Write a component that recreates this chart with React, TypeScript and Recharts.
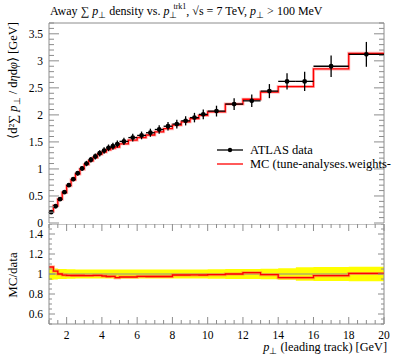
import React from "react";
import {
  Area,
  ComposedChart,
  ErrorBar,
  Line,
  ReferenceLine,
  Scatter,
  XAxis,
  YAxis,
} from "recharts";

// bin edges in p_T (leading track) [GeV]
const binEdges = [
  1, 1.25, 1.5, 1.75, 2, 2.25, 2.5, 2.75, 3, 3.25, 3.5, 3.75, 4, 4.25, 4.5,
  4.75, 5, 5.5, 6, 6.5, 7, 7.5, 8, 8.5, 9, 9.5, 10, 11, 12, 13, 14, 15, 16, 18,
  20,
];

// ATLAS data: away sum pT density
const dataValues = [
  0.2, 0.31, 0.44, 0.57, 0.7, 0.81, 0.92, 1.01, 1.1, 1.17, 1.23, 1.29, 1.34,
  1.39, 1.42, 1.46, 1.51, 1.58, 1.62, 1.67, 1.73, 1.79, 1.83, 1.89, 1.95, 2.01,
  2.07, 2.2, 2.26, 2.44, 2.62, 2.62, 2.9, 3.12,
];

const dataErrors = [
  0.012, 0.017, 0.022, 0.028, 0.034, 0.038, 0.042, 0.046, 0.05, 0.053, 0.056,
  0.058, 0.06, 0.062, 0.063, 0.065, 0.068, 0.07, 0.072, 0.075, 0.077, 0.08,
  0.082, 0.085, 0.088, 0.09, 0.1, 0.11, 0.115, 0.13, 0.15, 0.18, 0.2, 0.23,
];

// MC prediction
const mcValues = [
  0.214, 0.319, 0.44, 0.564, 0.69, 0.798, 0.906, 0.995, 1.083, 1.152, 1.212,
  1.271, 1.313, 1.355, 1.385, 1.406, 1.465, 1.533, 1.58, 1.628, 1.687, 1.745,
  1.812, 1.871, 1.931, 1.99, 2.056, 2.2, 2.289, 2.423, 2.523, 2.523, 2.851,
  3.139,
];

const xMajorTicks = [2, 4, 6, 8, 10, 12, 14, 16, 18, 20];
const mainYMajorTicks = [0, 0.5, 1, 1.5, 2, 2.5, 3, 3.5];
const ratioYMajorTicks = [0.6, 0.8, 1, 1.2, 1.4];

const GRAY = "#8c8c8c";
const FONT = "'Liberation Serif', serif";
const W = 397;
const PLOT_L = 49;
const PLOT_R = 384;
const PLOT_W = PLOT_R - PLOT_L;
const MAIN_TOP = 23;
const MAIN_H = 200;
const RATIO_H = 100;
const MAIN_YMAX = 3.7;

const range = (a: number, b: number, step: number) => {
  const out: number[] = [];
  for (let v = a; v <= b + 1e-9; v += step) out.push(Math.round(v * 1000) / 1000);
  return out;
};

const xTicks = range(1, 20, 0.5);
const mainYTicks = range(0, 3.7, 0.1);
const ratioYTicks = range(0.5, 1.5, 0.05);

const isMajor = (v: number, majors: number[]) =>
  majors.some((m) => Math.abs(m - v) < 1e-6);

const n = dataValues.length;

const points = dataValues.map((v, i) => ({
  x: (binEdges[i] + binEdges[i + 1]) / 2,
  y: v,
  ex: (binEdges[i + 1] - binEdges[i]) / 2,
  ey: dataErrors[i],
}));

const mcStep = binEdges.map((e, i) => ({
  x: e,
  mc: mcValues[Math.min(i, n - 1)],
}));

const ratioStep = binEdges.map((e, i) => {
  const k = Math.min(i, n - 1);
  const rel = dataErrors[k] / dataValues[k];
  return {
    x: e,
    r: mcValues[k] / dataValues[k],
    band: [1 - rel, 1 + rel],
  };
});

function makeXTick(plotH: number, showLabels: boolean, big: number, small: number) {
  return (props: any) => {
    const { x, y, payload } = props;
    const major = isMajor(payload.value, xMajorTicks);
    const len = major ? big : small;
    return (
      <g>
        <line x1={x} y1={y} x2={x} y2={y - len} stroke={GRAY} />
        <line x1={x} y1={y - plotH} x2={x} y2={y - plotH + len} stroke={GRAY} />
        {showLabels && major && (
          <text x={x} y={y + 15} textAnchor="middle" fontSize={11.5} fontFamily={FONT} fill="#000">
            {payload.value}
          </text>
        )}
      </g>
    );
  };
}

function makeYTick(majors: number[], big: number, small: number) {
  return (props: any) => {
    const { x, y, payload } = props;
    const major = isMajor(payload.value, majors);
    const len = major ? big : small;
    return (
      <g>
        <line x1={x} y1={y} x2={x + len} y2={y} stroke={GRAY} />
        <line x1={x + PLOT_W} y1={y} x2={x + PLOT_W - len} y2={y} stroke={GRAY} />
        {major && (
          <text x={x - 6} y={y + 4} textAnchor="end" fontSize={11.5} fontFamily={FONT} fill="#000">
            {String(payload.value)}
          </text>
        )}
      </g>
    );
  };
}

const Dot = (props: any) => <circle cx={props.cx} cy={props.cy} r={2.4} fill="#000" />;

export default function App() {
  return (
    <div style={{ position: "absolute", left: 0, top: 0, width: W, height: 358, background: "#fff" }}>
      <div style={{ position: "absolute", left: 0, top: 0 }}>
        <ComposedChart
          width={W}
          height={MAIN_TOP + MAIN_H + 12}
          data={mcStep}
          margin={{ top: MAIN_TOP, right: W - PLOT_R, left: 0, bottom: 12 }}
        >
          <XAxis
            dataKey="x"
            type="number"
            domain={[1, 20]}
            ticks={xTicks}
            interval={0}
            height={0}
            tickSize={0}
            tickMargin={0}
            tickLine={false}
            axisLine={{ stroke: GRAY }}
            tick={makeXTick(MAIN_H, false, 10, 5)}
          />
          <YAxis
            type="number"
            domain={[0, MAIN_YMAX]}
            ticks={mainYTicks}
            interval={0}
            width={PLOT_L}
            tickSize={0}
            tickMargin={0}
            tickLine={false}
            axisLine={{ stroke: GRAY }}
            tick={makeYTick(mainYMajorTicks, 10, 5)}
          />
          <ReferenceLine y={MAIN_YMAX} stroke={GRAY} />
          <ReferenceLine x={20} stroke={GRAY} />
          <Line
            data={mcStep}
            dataKey="mc"
            type="stepAfter"
            stroke="#ff8080"
            strokeOpacity={0.6}
            strokeWidth={3}
            dot={false}
            isAnimationActive={false}
          />
          <Line
            data={mcStep}
            dataKey="mc"
            type="stepAfter"
            stroke="#ff0000"
            strokeWidth={1.3}
            dot={false}
            isAnimationActive={false}
          />
          <Scatter data={points} dataKey="y" shape={Dot} isAnimationActive={false}>
            <ErrorBar dataKey="ex" direction="x" width={0} stroke="#000" strokeWidth={1.3} />
            <ErrorBar dataKey="ey" direction="y" width={0} stroke="#000" strokeWidth={1.3} />
          </Scatter>
        </ComposedChart>
      </div>

      <div style={{ position: "absolute", left: 0, top: MAIN_TOP + MAIN_H + 1 }}>
        <ComposedChart
          width={W}
          height={134}
          data={ratioStep}
          margin={{ top: 0, right: W - PLOT_R, left: 0, bottom: 0 }}
        >
          <XAxis
            dataKey="x"
            type="number"
            domain={[1, 20]}
            ticks={xTicks}
            interval={0}
            height={34}
            tickSize={0}
            tickMargin={0}
            tickLine={false}
            axisLine={{ stroke: GRAY }}
            tick={makeXTick(RATIO_H, true, 7, 4)}
          />
          <YAxis
            type="number"
            domain={[0.5, 1.5]}
            ticks={ratioYTicks}
            interval={0}
            width={PLOT_L}
            tickSize={0}
            tickMargin={0}
            tickLine={false}
            axisLine={{ stroke: GRAY }}
            tick={makeYTick(ratioYMajorTicks, 6, 3)}
          />
          <Area
            dataKey="band"
            type="stepAfter"
            fill="#ffff00"
            fillOpacity={1}
            stroke="none"
            isAnimationActive={false}
          />
          <ReferenceLine y={1} stroke={GRAY} />
          <ReferenceLine y={1.5} stroke={GRAY} />
          <ReferenceLine x={20} stroke={GRAY} />
          <Line
            dataKey="r"
            type="stepAfter"
            stroke="#ff8040"
            strokeOpacity={0.7}
            strokeWidth={3}
            dot={false}
            isAnimationActive={false}
          />
          <Line
            dataKey="r"
            type="stepAfter"
            stroke="#ff0000"
            strokeWidth={1.3}
            dot={false}
            isAnimationActive={false}
          />
        </ComposedChart>
      </div>

      <svg
        width={W}
        height={358}
        style={{ position: "absolute", left: 0, top: 0, pointerEvents: "none" }}
        fontFamily={FONT}
      >
        <text x={50} y={15} fontSize={12}>
          Away ∑ <tspan fontStyle="italic">p</tspan>
          <tspan fontSize={8.5} dy={2.5}>⊥</tspan>
          <tspan dy={-2.5}> density vs. </tspan>
          <tspan fontStyle="italic">p</tspan>
          <tspan fontSize={8.5} dy={2.5}>⊥</tspan>
          <tspan fontSize={8} dx={-4} dy={-8.5}>trk1</tspan>
          <tspan dy={6}>, √s = 7 TeV, </tspan>
          <tspan fontStyle="italic">p</tspan>
          <tspan fontSize={8.5} dy={2.5}>⊥</tspan>
          <tspan dy={-2.5}> &gt; 100 MeV</tspan>
        </text>

        <text x={17} y={22} fontSize={12.5} textAnchor="end" transform="rotate(-90 17 22)">
          ⟨d²∑ <tspan fontStyle="italic">p</tspan>
          <tspan fontSize={9} dy={2.5}>⊥</tspan>
          <tspan dy={-2.5}> / d</tspan>
          <tspan fontStyle="italic">η</tspan>d<tspan fontStyle="italic">φ</tspan>⟩ [GeV]
        </text>

        <text x={17} y={275} fontSize={13} textAnchor="middle" transform="rotate(-90 17 275)">
          MC/data
        </text>

        <text x={387} y={351} fontSize={12.3} textAnchor="end">
          <tspan fontStyle="italic">p</tspan>
          <tspan fontSize={9} dy={2.5}>⊥</tspan>
          <tspan dy={-2.5}> (leading track) [GeV]</tspan>
        </text>

        <line x1={217} y1={150} x2={243} y2={150} stroke="#000" strokeWidth={1.3} />
        <circle cx={230} cy={150} r={2.2} fill="#000" />
        <text x={250} y={154} fontSize={12.5}>ATLAS data</text>
        <line x1={217} y1={164} x2={243} y2={164} stroke="#ff0000" strokeWidth={1.3} />
        <text x={250} y={168} fontSize={12.5}>MC (tune-analyses.weights-</text>
      </svg>
    </div>
  );
}
